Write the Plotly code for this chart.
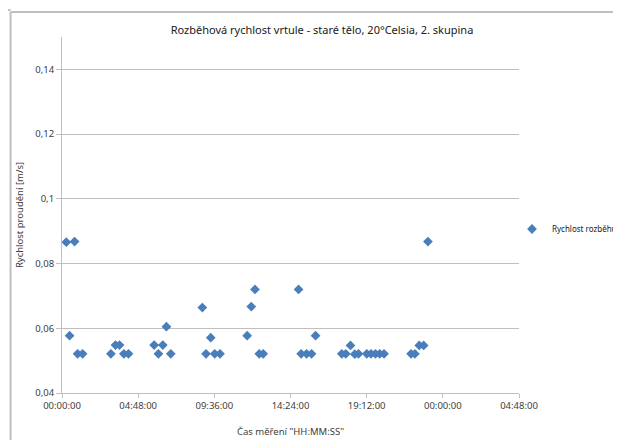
import plotly.graph_objects as go

# Measurement times as fraction of a day (Excel time serial)
cas = [0.0113, 0.0199, 0.0330, 0.0409, 0.0540,
       0.1284, 0.1405, 0.1510, 0.1625, 0.1746,
       0.2419, 0.2532, 0.2647, 0.2742, 0.2857,
       0.3685, 0.3782, 0.3906, 0.4010, 0.4149,
       0.4862, 0.4970, 0.5067, 0.5180, 0.5284,
       0.6212, 0.6280, 0.6422, 0.6553, 0.6658,
       0.7347, 0.7452, 0.7575, 0.7688, 0.7785,
       0.8003, 0.8115, 0.8231, 0.8343, 0.8456,
       0.9166, 0.9266, 0.9381, 0.9497, 0.9609]
rychlost = [0.0866, 0.0577, 0.0868, 0.0521, 0.0521,
            0.0521, 0.0548, 0.0548, 0.0521, 0.0521,
            0.0548, 0.0521, 0.0548, 0.0605, 0.0521,
            0.0664, 0.0521, 0.0571, 0.0521, 0.0521,
            0.0577, 0.0667, 0.0720, 0.0521, 0.0521,
            0.0720, 0.0521, 0.0521, 0.0521, 0.0577,
            0.0521, 0.0521, 0.0547, 0.0520, 0.0521,
            0.0521, 0.0521, 0.0521, 0.0521, 0.0521,
            0.0521, 0.0521, 0.0547, 0.0547, 0.0868]

x_tickvals = [0, 0.2, 0.4, 0.6, 0.8, 1.0, 1.2]
x_ticktext = ["00:00:00", "04:48:00", "09:36:00", "14:24:00", "19:12:00", "00:00:00", "04:48:00"]

title = "Rozběhová rychlost vrtule - staré tělo, 20°Celsia, 2. skupina"
x_title = 'Čas měření "HH:MM:SS"'
y_title = "Rychlost proudění [m/s]"
series_name = "Rychlost rozběhu"

# the page body adds an 8px offset; work in window pixels and subtract it
OFF = 8
WIN_W, WIN_H = 621, 440
W, H = WIN_W - OFF, WIN_H - OFF
left_px, right_px, top_px, bottom_px = 62, 519.5, 37, 392.7   # plot area in window px
L = left_px - OFF
T = top_px - OFF
R = W - (right_px - OFF)
B = H - (bottom_px - OFF)
pw, ph = W - L - R, H - T - B

def px(x):  # window px -> paper x
    return (x - OFF - L) / pw

def py(y):  # window px -> paper y
    return (H - B - (y - OFF)) / ph

FONT = "Noto Sans"
GRID = "#BFBFBF"
TXT = "#404040"

fig = go.Figure()
fig.add_trace(go.Scatter(
    x=cas, y=rychlost, mode="markers", name=series_name,
    marker=dict(symbol="diamond", size=7.5, color="#4A7EBB"),
))

fig.update_layout(
    width=W, height=H,
    margin=dict(l=L, r=R, t=T, b=B, autoexpand=False),
    paper_bgcolor="white", plot_bgcolor="white",
    separators=", ",
    font=dict(family=FONT, size=10, color=TXT),
    title=dict(text=title, x=(322 - OFF) / W, xanchor="center", xref="container",
               y=1 - (30 - OFF) / H, yanchor="middle", yref="container",
               font=dict(family=FONT, size=11, color="#202020")),
    showlegend=True,
    legend=dict(x=(512 - OFF) / W, y=1 - (229 - OFF) / H, xanchor="left", yanchor="middle",
                xref="container", yref="container", itemwidth=30,
                font=dict(family=FONT, size=8, color="#202020"),
                bgcolor="rgba(0,0,0,0)"),
    xaxis=dict(range=[0, 1.2], tickvals=x_tickvals, ticktext=x_ticktext,
               showgrid=False, zeroline=False, showline=True, linecolor=GRID,
               linewidth=1, ticks="outside", ticklen=4, tickcolor=GRID,
               automargin=False,
               tickfont=dict(size=9.5, color=TXT),
               title=dict(text=x_title, font=dict(size=9.5, color=TXT), standoff=16)),
    yaxis=dict(range=[0.04, 0.15], tick0=0.04, dtick=0.02,
               showgrid=True, gridcolor=GRID, gridwidth=1,
               zeroline=False, showline=True, linecolor=GRID, linewidth=1,
               ticks="outside", ticklen=5, tickcolor=GRID, automargin=False,
               tickfont=dict(size=9.5, color=TXT),
               title=dict(text=y_title, font=dict(size=9.5, color=TXT), standoff=9)),
    shapes=[
        dict(type="line", xref="paper", yref="paper",
             x0=px(10.5), x1=px(10.5), y0=py(WIN_H), y1=py(12), line=dict(color=GRID, width=2)),
        dict(type="line", xref="paper", yref="paper",
             x0=px(10.5), x1=px(WIN_W), y0=py(12), y1=py(12), line=dict(color=GRID, width=2)),
        dict(type="line", xref="paper", yref="paper",
             x0=px(OFF), x1=px(10.5), y0=py(10), y1=py(10), line=dict(color=GRID, width=2)),
    ],
)

fig.write_html("out.html")
